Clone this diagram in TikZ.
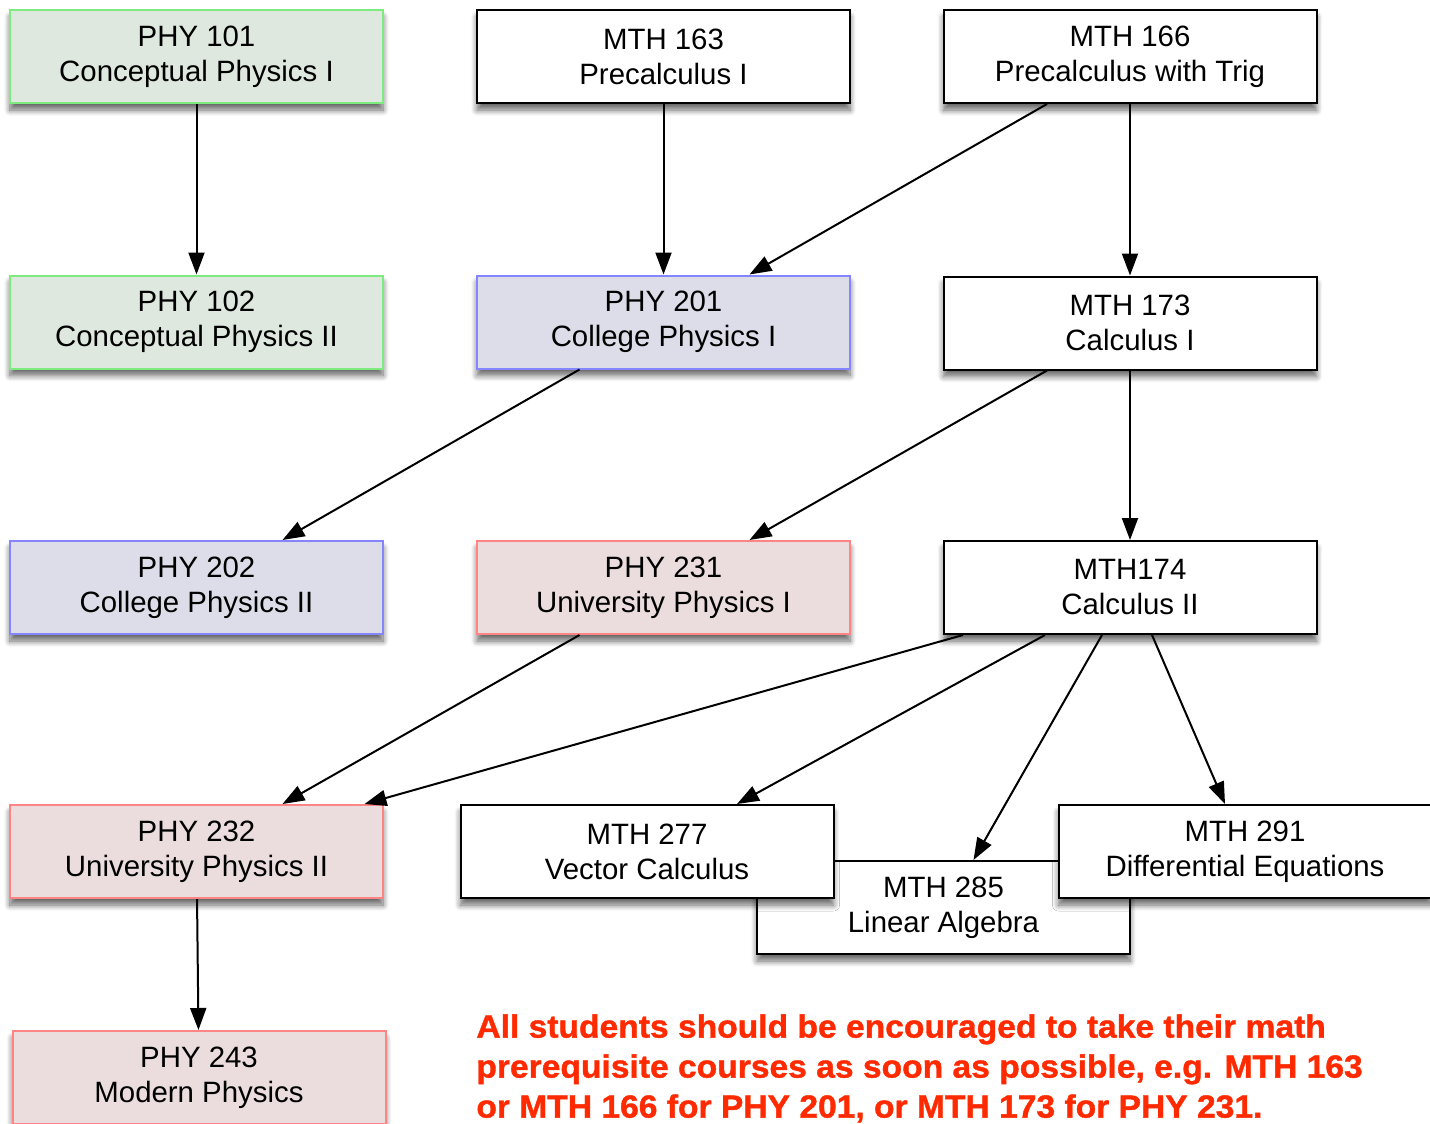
\documentclass[tikz,border=0pt]{standalone}
\usepackage{fontspec}
\setmainfont{Liberation Sans}
\newfontfamily\notefont{Liberation Sans}[BoldFeatures={FakeStretch=1.05,FakeBold=1.2}]
\usepackage{xcolor}
\usepackage{tikz}
\usetikzlibrary{arrows.meta,shadows.blur}

\definecolor{grnline}{HTML}{7DEB7D}
\definecolor{grnfill}{HTML}{DEE8DE}
\definecolor{bluline}{HTML}{8585FF}
\definecolor{blufill}{HTML}{DDDDEA}
\definecolor{redline}{HTML}{FF8585}
\definecolor{redfill}{HTML}{EBDDDD}
\definecolor{notered}{HTML}{FF2A00}

\tikzset{
  course/.style={draw=black, line width=1pt, fill=white, inner sep=0pt,
    minimum width=186.5pt, minimum height=46.5pt, align=center,
    font=\fontsize{14.7}{17.5}\selectfont,
    blur shadow={shadow xshift=0pt, shadow yshift=-3.5pt, shadow blur radius=3pt,
      shadow blur steps=8, shadow opacity=60}},
  concept/.style={course, draw=grnline, fill=grnfill},
  college/.style={course, draw=bluline, fill=blufill},
  univ/.style={course, draw=redline, fill=redfill},
  prereq/.style={-{Triangle[length=11pt,width=8pt]}, line width=1pt}
}

\begin{document}
\begin{tikzpicture}[x=0.5pt,y=-0.5pt]
\useasboundingbox (0,0) rectangle (1430,1124);

% physics
\node[concept] (p101) at (196.5,56.5) {PHY 101\\Conceptual Physics I};
\node[concept] (p102) at (196.5,322) {PHY 102\\Conceptual Physics II};
\node[college] (p201) at (663.5,322) {PHY 201\\College Physics I};
\node[college] (p202) at (196.5,587.5) {PHY 202\\College Physics II};
\node[univ] (p231) at (663.5,587.5) {PHY 231\\University Physics I};
\node[univ] (p232) at (196.5,851.5) {PHY 232\\University Physics II};
\node[univ] (p243) at (199,1077.5) {PHY 243\\Modern Physics};

% math
\node[course] (m163) at (663.5,56.5) {MTH 163\\Precalculus I};
\node[course] (m166) at (1130,56.5) {MTH 166\\Precalculus with Trig};
\node[course] (m173) at (1130,323) {MTH 173\\Calculus I};
\node[course] (m174) at (1130,587.5) {MTH174\\Calculus II};
\node[course] (m285) at (943.5,907.5) {MTH 285\\Linear Algebra};
\node[course] (m277) at (647,851.5) {MTH 277\\Vector Calculus};
\node[course] (m291) at (1245,851.5) {MTH 291\\Differential Equations};

\draw[prereq] (p101) -- (p102);
\draw[prereq] (m163) -- (p201);
\draw[prereq] ([xshift=-41.5pt]m166.south) -- ([xshift=43pt]p201.north);
\draw[prereq] (m166) -- (m173);
\draw[prereq] ([xshift=-42pt]p201.south) -- ([xshift=43pt]p202.north);
\draw[prereq] ([xshift=-41.5pt]m173.south) -- ([xshift=43pt]p231.north);
\draw[prereq] (m173) -- (m174);
\draw[prereq] ([xshift=-42pt]p231.south) -- ([xshift=43pt]p232.north);
\draw[prereq] ([xshift=-83.5pt]m174.south) -- ([xshift=84pt]p232.north);
\draw[prereq] ([xshift=-42.5pt]m174.south) -- ([xshift=45pt]m277.north);
\draw[prereq] ([xshift=-14pt]m174.south) -- ([xshift=15pt]m285.north);
\draw[prereq] ([xshift=11pt]m174.south) -- ([xshift=-10pt]m291.north);
\draw[prereq] (p232) -- (p243);

\node[anchor=north west, align=left, inner sep=0pt, text=notered,
  font=\notefont\bfseries\fontsize{16}{20}\selectfont]
  (note) at (476,1014) {All students should be encouraged to take their math\\
  prerequisite courses as soon as possible, e.g. MTH 163\\
  or MTH 166 for PHY 201, or MTH 173 for PHY 231.};
\end{tikzpicture}
\end{document}
